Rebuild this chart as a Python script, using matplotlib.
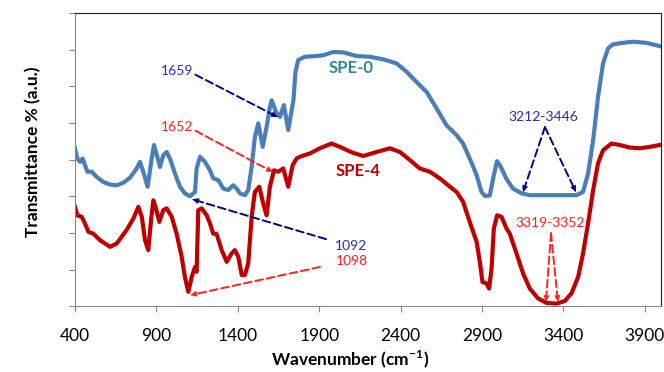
import matplotlib
matplotlib.use("Agg")
import matplotlib.pyplot as plt

plt.rcParams['font.family'] = ['Lato', 'DejaVu Sans']
plt.rcParams['mathtext.fontset'] = 'custom'
plt.rcParams['mathtext.rm'] = 'Lato'
plt.rcParams['mathtext.bf'] = 'Lato:bold'

# SPE-0 spectrum
wn_spe0 = [400, 414, 431, 447, 461, 476, 503, 533, 574, 615, 656, 697, 738, 779, 799, 819,
           846, 871, 885, 905, 922, 942, 963, 983, 1014, 1045, 1075, 1106, 1137, 1147, 1168,
           1198, 1229, 1249, 1280, 1311, 1341, 1372, 1393, 1413, 1444, 1464, 1485, 1505, 1526,
           1553, 1577, 1597, 1608, 1634, 1659, 1683, 1710, 1731, 1742, 1754, 1771, 1812, 1884,
           1925, 1986, 2047, 2130, 2211, 2293, 2375, 2437, 2498, 2560, 2621, 2682, 2744, 2784,
           2825, 2867, 2897, 2918, 2948, 2973, 2993, 3016, 3051, 3091, 3143, 3194, 3481, 3521,
           3552, 3583, 3613, 3644, 3675, 3705, 3767, 3828, 3910, 3992]
t_spe0 = [4.31, 4.03, 3.94, 4.03, 3.85, 3.67, 3.67, 3.53, 3.39, 3.32, 3.30, 3.37, 3.51, 3.76,
          3.94, 3.67, 3.26, 4.03, 4.40, 4.08, 3.80, 4.12, 4.21, 4.03, 3.62, 3.26, 3.08, 3.00,
          3.12, 3.76, 4.08, 3.94, 3.71, 3.49, 3.44, 3.21, 3.17, 3.30, 3.21, 3.08, 3.03, 3.17,
          3.80, 4.62, 4.99, 4.35, 4.90, 5.44, 5.62, 5.31, 5.17, 5.49, 4.81, 5.35, 5.62, 6.39,
          6.72, 6.81, 6.83, 6.85, 6.94, 6.93, 6.83, 6.81, 6.74, 6.63, 6.40, 6.12, 5.85, 5.40,
          4.94, 4.67, 4.44, 4.03, 3.58, 3.12, 3.01, 3.02, 3.58, 3.96, 3.80, 3.47, 3.21, 3.08,
          3.03, 3.03, 3.12, 3.62, 4.53, 5.71, 6.63, 7.04, 7.15, 7.19, 7.22, 7.19, 7.10]

# SPE-4 spectrum
wn_spe4 = [400, 414, 441, 461, 482, 512, 554, 615, 656, 717, 758, 789, 810, 830, 850, 867,
           881, 897, 918, 942, 963, 994, 1024, 1055, 1075, 1096, 1117, 1137, 1147, 1157, 1178,
           1209, 1229, 1249, 1270, 1301, 1332, 1362, 1382, 1403, 1424, 1444, 1464, 1485, 1505,
           1532, 1556, 1577, 1597, 1622, 1648, 1679, 1710, 1737, 1761, 1782, 1843, 1904, 1976,
           2027, 2099, 2170, 2253, 2334, 2396, 2457, 2518, 2580, 2641, 2703, 2744, 2784, 2825,
           2867, 2887, 2903, 2928, 2944, 2959, 2973, 2993, 3020, 3051, 3071, 3112, 3153, 3194,
           3245, 3296, 3358, 3409, 3450, 3491, 3521, 3552, 3583, 3613, 3644, 3696, 3747, 3808,
           3870, 3931, 3992]
t_spe4 = [2.71, 2.48, 2.44, 2.26, 2.03, 1.98, 1.80, 1.62, 1.71, 2.08, 2.39, 2.71, 2.44, 1.80,
          1.53, 2.35, 2.89, 2.67, 2.30, 2.62, 2.67, 2.44, 1.98, 1.35, 0.80, 0.39, 0.80, 1.07,
          0.94, 2.62, 2.67, 2.48, 2.26, 1.98, 1.97, 1.53, 1.21, 1.44, 1.53, 1.35, 0.85, 0.85,
          1.17, 2.44, 3.12, 3.26, 2.80, 2.48, 3.26, 3.71, 3.67, 3.76, 3.26, 3.85, 4.03, 4.08,
          4.17, 4.31, 4.44, 4.35, 4.20, 4.10, 4.21, 4.31, 4.21, 3.99, 3.76, 3.67, 3.49, 3.26,
          3.12, 2.85, 2.30, 1.76, 1.21, 0.66, 0.62, 0.48, 1.03, 2.12, 2.48, 2.44, 2.12, 1.98,
          1.44, 0.89, 0.48, 0.21, 0.09, 0.07, 0.14, 0.35, 0.80, 1.44, 2.26, 3.17, 3.90, 4.26,
          4.44, 4.40, 4.33, 4.31, 4.35, 4.40]

x_ticks = [400, 900, 1400, 1900, 2400, 2900, 3400, 3900]

fig = plt.figure(figsize=(6.64, 3.72), dpi=100)
ax = fig.add_axes([0.113, 0.177, 0.8825, 0.7876])

ax.plot(wn_spe0, t_spe0, color='#4A7EBB', lw=3.0, solid_joinstyle='round')
ax.plot(wn_spe4, t_spe4, color='#C00000', lw=3.0, solid_joinstyle='round')

ax.set_xlim(400, 4000)
ax.set_ylim(0, 8)
ax.set_xticks(x_ticks)
ax.set_yticks(range(0, 9))
ax.set_yticklabels([])
ax.tick_params(axis='both', direction='out', length=4, color='#868686', labelsize=12.5, pad=12)
for s in ['left', 'bottom']:
    ax.spines[s].set_color('#868686')
for s in ['top', 'right']:
    ax.spines[s].set_color('#222222')

fig.text(350 / 664, 1 - 359 / 372, r'Wavenumber (cm$^{\mathbf{-1}}$)', fontsize=12.5,
         fontweight='bold', ha='center', va='center')
fig.text(33 / 664, 1 - 152 / 372, 'Transmittance % (a.u.)', fontsize=12.5,
         fontweight='bold', ha='center', va='center', rotation=90)


def dash_arrow(text_xy, tip_xy, color):
    ax.annotate('', xy=tip_xy, xytext=text_xy,
                arrowprops=dict(arrowstyle='-', color=color, lw=1.4, ls=(0, (4, 2)),
                                shrinkA=0, shrinkB=3))
    ax.annotate('', xy=tip_xy, xytext=text_xy,
                arrowprops=dict(arrowstyle='-|>,head_length=0.5,head_width=0.22', color=color,
                                lw=0, shrinkA=0, shrinkB=0, mutation_scale=10))


navy = '#00008B'
blue_txt = '#2B2BA8'
red = '#FF2020'
fs = 10

ax.text(1027, 6.42, '1659', color=blue_txt, fontsize=fs, ha='center', va='center')
dash_arrow((1140, 6.32), (1647, 5.16), navy)
ax.text(1027, 4.89, '1652', color=red, fontsize=fs, ha='center', va='center')
dash_arrow((1140, 4.79), (1616, 3.66), red)

ax.text(2095, 1.64, '1092', color=blue_txt, fontsize=fs, ha='center', va='center')
dash_arrow((1942, 1.83), (1119, 2.92), navy)
ax.text(2102, 1.23, '1098', color=red, fontsize=fs, ha='center', va='center')
dash_arrow((1905, 1.07), (1107, 0.30), red)

ax.text(3275, 5.16, '3212-3446', color=blue_txt, fontsize=fs, ha='center', va='center')
dash_arrow((3287, 4.89), (3152, 3.11), navy)
dash_arrow((3287, 4.89), (3478, 3.11), navy)

ax.text(3318, 2.27, '3319-3352', color=red, fontsize=fs, ha='center', va='center')
dash_arrow((3324, 1.99), (3293, 0.11), red)
dash_arrow((3324, 1.99), (3367, 0.11), red)

ax.text(2095, 6.50, 'SPE-0', color='#31859C', fontsize=12, fontweight='bold',
        ha='center', va='center')
ax.text(2138, 3.69, 'SPE-4', color='#C00000', fontsize=12, fontweight='bold',
        ha='center', va='center')

fig.savefig('out.png', dpi=100)
